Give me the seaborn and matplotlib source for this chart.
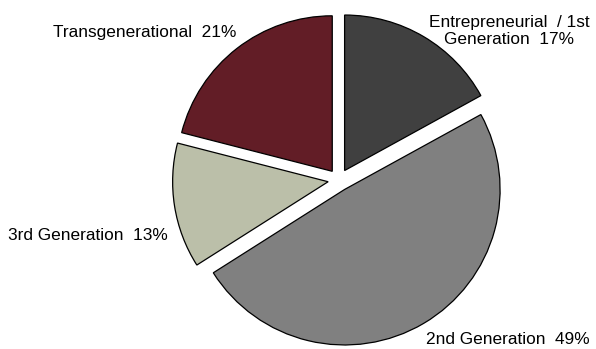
import matplotlib
matplotlib.use("Agg")
import matplotlib.pyplot as plt
import seaborn as sns

categories = ["Entrepreneurial  / 1st\nGeneration", "2nd Generation", "3rd Generation", "Transgenerational"]
shares = [17, 49, 13, 21]
colors = ["#404040", "#808080", "#BBBFA9", "#621D26"]

sns.set_theme(style="white")
plt.rcParams['font.family'] = ['Liberation Sans', 'DejaVu Sans']

fig = plt.figure(figsize=(5.96, 3.49), dpi=100)
ax = fig.add_axes([0, 0, 1, 1])

ax.pie(shares, colors=colors, startangle=90, counterclock=False,
       explode=[11] * len(shares), center=(339, 169), radius=155.5,
       wedgeprops=dict(edgecolor="black", linewidth=0.9), frame=False)
ax.set_xlim(0, 596)
ax.set_ylim(0, 349)
ax.set_aspect('equal')
ax.axis('off')

labels = [f"{c}  {v}%" for c, v in zip(categories, shares)]
# label anchor positions (pixels, y from bottom)
pos = [(509, 318, 'center'), (590, 9, 'right'), (168, 114, 'right'), (236, 316, 'right')]
for lab, (x, y, ha) in zip(labels, pos):
    ax.text(x, y, lab, ha=ha, va='center', fontsize=12.4, color='black', linespacing=1.2)

fig.savefig("out.png", dpi=100)
